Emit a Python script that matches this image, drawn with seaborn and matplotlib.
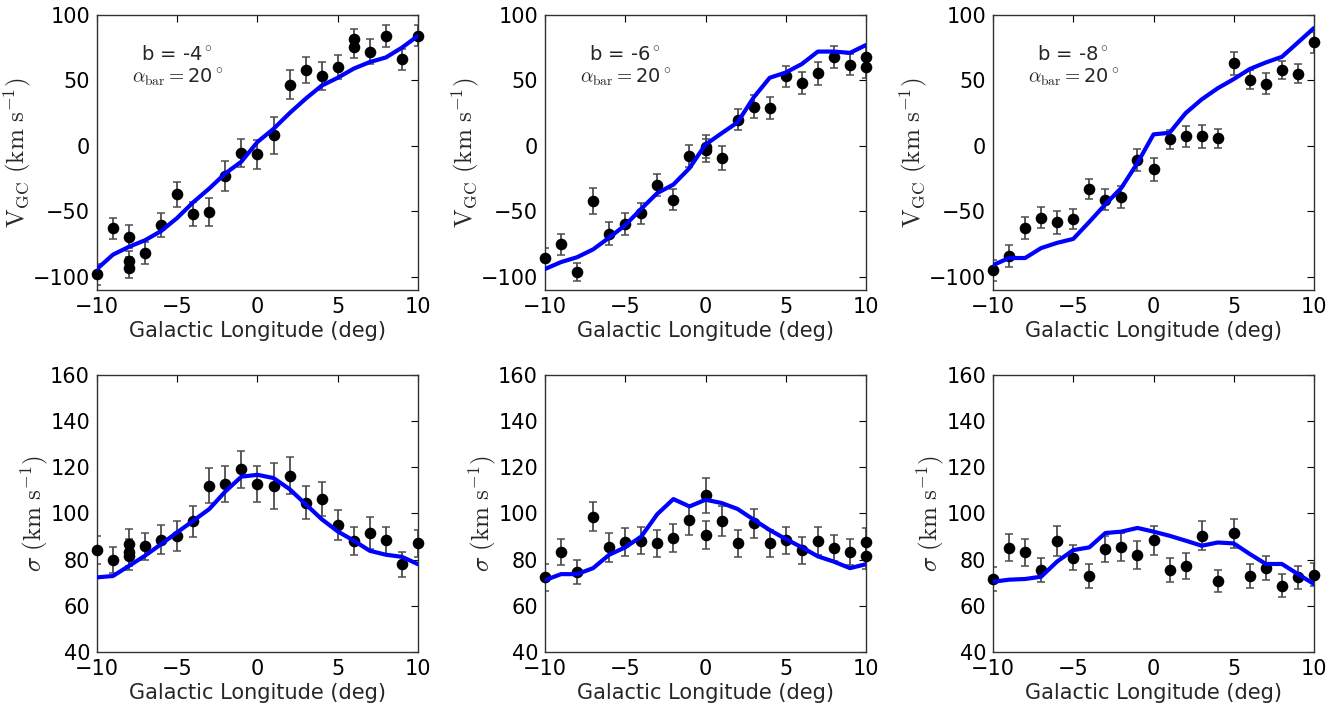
import numpy as np
import pandas as pd
import matplotlib
matplotlib.use("Agg")
import matplotlib.pyplot as plt
import seaborn as sns

# model grid (galactic longitude, deg)
lon = [-10, -9, -8, -7, -6, -5, -4, -3, -2, -1, 0, 1, 2, 3, 4, 5, 6, 7, 8, 9, 10]

# model curves
vmod_b4 = [-94, -83, -77, -72, -65, -55, -43, -32.5, -21, -12, 3, 13, 25, 36, 46, 52, 59, 64, 67.5, 75, 84]
vmod_b6 = [-94, -88.7, -85, -79, -70, -60.5, -48, -36, -29.5, -17, 1, 9.6, 18, 37, 52, 56, 62.5, 72, 72, 71, 77]
vmod_b8 = [-91, -85.6, -85.6, -78, -74, -71, -58, -44.6, -32, -13, 8.8, 10, 25, 35.5, 44, 51, 58.7, 63.7, 68, 79, 90]
smod_b4 = [72.3, 72.9, 77.3, 81.7, 86.7, 91.8, 96.8, 101.9, 109.5, 115.9, 116.7, 115.3, 110.5, 104, 97.5, 92.2, 88.2, 83.8, 82.1, 81.2, 78]
smod_b6 = [71.1, 73.7, 73.7, 76.3, 82.1, 85.3, 90, 99.7, 106.2, 103, 105.9, 104.5, 101.9, 97.3, 92.8, 88.9, 85.3, 81.4, 79.1, 76.3, 78]
smod_b8 = [70.4, 71.3, 71.6, 72.6, 79.2, 84.1, 85.3, 91.5, 92.1, 93.7, 92.1, 90.3, 88.2, 86, 87.4, 87, 82.4, 78.1, 78.1, 73.7, 69.4]

# observed fields, b = -4
obs_l_b4 = [-10, -9, -8, -8, -8, -7, -6, -5, -4, -3, -2, -1, 0, 1, 2, 3, 4, 5, 6, 6, 7, 8, 9, 10]
obs_v_b4 = [-98, -63, -69.5, -88, -93, -82, -60.5, -37, -52, -50.6, -23, -5.5, -6.3, 8, 46.6, 57.7, 53, 60, 81.6, 75.8, 72, 84, 66, 84]
obs_ve_b4 = [8, 8, 8.8, 8, 8, 8.5, 9, 9.3, 9, 10.5, 11.3, 11, 11, 14, 11, 10, 10.7, 9, 8, 8.4, 9.3, 8.3, 8.2, 8]
obs_ls_b4 = [-10, -9, -8, -8, -8, -7, -6, -5, -4, -3, -2, -1, 0, 1, 2, 3, 4, 5, 6, 7, 8, 9, 10]
obs_s_b4 = [84.1, 79.8, 86.6, 83.1, 81.5, 85.7, 88.6, 90.3, 96.5, 112, 112.8, 119, 112.8, 111.7, 116.2, 104.6, 106.2, 95, 88.2, 91.6, 88.3, 77.9, 87]
obs_se_b4 = [6, 5.8, 6.5, 6, 6, 5.8, 6.2, 6.5, 6.6, 7.6, 7.7, 8, 7.7, 10, 8, 7.1, 7.5, 6.4, 6.1, 6.9, 5.9, 5.6, 6]

# observed fields, b = -6
obs_l_b6 = [-10, -9, -8, -7, -6, -5, -4, -3, -2, -1, 0, 0, 1, 2, 3, 4, 5, 6, 7, 8, 9, 10, 10]
obs_v_b6 = [-85.6, -75, -96.5, -42, -67, -60, -51.6, -30, -41, -7.5, -0.5, -3.5, -9.3, 20, 30, 29, 53, 48, 55.4, 68, 62, 67.5, 60]
obs_ve_b6 = [8, 8, 7, 10, 8.7, 8.4, 8.3, 8.4, 8.3, 8.4, 9, 9, 9, 8.2, 9, 8.3, 8.3, 8.4, 8.7, 8.4, 8, 8, 8]
obs_ls_b6 = [-10, -9, -8, -7, -6, -5, -4, -3, -2, -1, 0, 0, 1, 2, 3, 4, 5, 6, 7, 8, 9, 10, 10]
obs_s_b6 = [72.3, 83.1, 74.5, 98.6, 85.3, 87.7, 88.2, 87, 89.2, 97.1, 107.9, 90.8, 96.8, 87, 95.8, 87, 88.3, 84.1, 88, 85.1, 83.4, 87.6, 81.7]
obs_se_b6 = [6, 5.6, 5.2, 6.4, 6.2, 6, 5.8, 5.8, 6, 6.5, 7.6, 6, 6.5, 5.7, 6.3, 5.8, 6, 5.8, 5.9, 5.6, 5.6, 5.9, 5.9]

# observed fields, b = -8
obs_l_b8 = [-10, -9, -8, -7, -6, -5, -4, -3, -2, -1, 0, 1, 2, 3, 4, 5, 6, 7, 8, 9, 10]
obs_v_b8 = [-95, -84, -62.5, -54.7, -58.4, -55.7, -32.7, -41, -39, -10.6, -18, 5, 7.3, 7.3, 5.8, 63, 50.6, 47.6, 57.7, 55, 79]
obs_ve_b8 = [8, 8.4, 8.3, 7.8, 8.8, 7.8, 7.5, 8.2, 8.5, 8.5, 8.7, 7.5, 7.8, 9, 7.3, 9, 7.5, 8, 7, 7.2, 8]
obs_ls_b8 = [-10, -9, -8, -7, -6, -5, -4, -3, -2, -1, 0, 1, 2, 3, 4, 5, 6, 7, 8, 9, 10]
obs_s_b8 = [71.6, 85.1, 83.1, 75.5, 88, 80.8, 72.9, 84.4, 85.4, 82.1, 88.3, 75.5, 77.2, 90.3, 70.6, 91.3, 72.9, 76.3, 68.7, 72.3, 73.4]
obs_se_b8 = [5, 5.9, 5.9, 5.1, 6.6, 5.3, 5, 5.6, 5.9, 6.1, 6.2, 5.1, 5.5, 6.2, 4.8, 6.4, 5, 5.3, 5, 5, 5]

lat_labels = ["b = -4$^\\circ$", "b = -6$^\\circ$", "b = -8$^\\circ$"]

sns.set_style("white")
plt.rcParams["mathtext.fontset"] = "cm"
plt.rcParams["font.family"] = ["DejaVu Sans"]

fig = plt.figure(figsize=(13.41, 7.09), dpi=100)

lefts = [0.0723, 0.4064, 0.7405]
w = 0.2394
top_rows = [
    (vmod_b4, obs_l_b4, obs_v_b4, obs_ve_b4),
    (vmod_b6, obs_l_b6, obs_v_b6, obs_ve_b6),
    (vmod_b8, obs_l_b8, obs_v_b8, obs_ve_b8),
]
bot_rows = [
    (smod_b4, obs_ls_b4, obs_s_b4, obs_se_b4),
    (smod_b6, obs_ls_b6, obs_s_b6, obs_se_b6),
    (smod_b8, obs_ls_b8, obs_s_b8, obs_se_b8),
]


def panel(ax, mod, ol, ov, oe):
    ax.errorbar(ol, ov, yerr=oe, fmt="none", ecolor="0.3", elinewidth=1.3,
                capsize=3, capthick=1.1, zorder=2)
    pts = pd.DataFrame({"l": ol, "v": ov})
    sns.scatterplot(data=pts, x="l", y="v", ax=ax, color="black", s=70,
                    edgecolor="black", linewidth=0, zorder=3, clip_on=False)
    m = pd.DataFrame({"l": lon, "v": mod})
    sns.lineplot(data=m, x="l", y="v", ax=ax, color="blue", lw=3, zorder=4)
    ax.set_xlim(-10, 10)
    ax.set_xticks([-10, -5, 0, 5, 10])
    ax.set_xlabel("Galactic Longitude (deg)", fontsize=15, labelpad=3)
    ax.tick_params(direction="in", top=True, right=True, length=5, width=0.8,
                   labelsize=15, colors="black", pad=5)
    for sp in ax.spines.values():
        sp.set_color("0.2")
        sp.set_linewidth(1.0)


for i in range(3):
    ax = fig.add_axes([lefts[i], 0.591, w, 0.388])
    panel(ax, *top_rows[i])
    ax.set_ylim(-110, 100)
    ax.set_yticks([-100, -50, 0, 50, 100])
    ax.set_ylabel(r"$\rm V_{GC}\ (km\ s^{-1})$", fontsize=18, labelpad=0)
    ax.text(0.25, 0.855, lat_labels[i], transform=ax.transAxes, fontsize=14,
            ha="center", va="center")
    ax.text(0.25, 0.775, r"$\alpha_{\rm bar}=$20$^\circ$", transform=ax.transAxes,
            fontsize=14, ha="center", va="center")

    ax = fig.add_axes([lefts[i], 0.0804, w, 0.391])
    panel(ax, *bot_rows[i])
    ax.set_ylim(40, 160)
    ax.set_yticks([40, 60, 80, 100, 120, 140, 160])
    ax.set_ylabel(r"$\sigma\ \rm (km\ s^{-1})$", fontsize=18, labelpad=0)

fig.savefig("out.png", dpi=100)
